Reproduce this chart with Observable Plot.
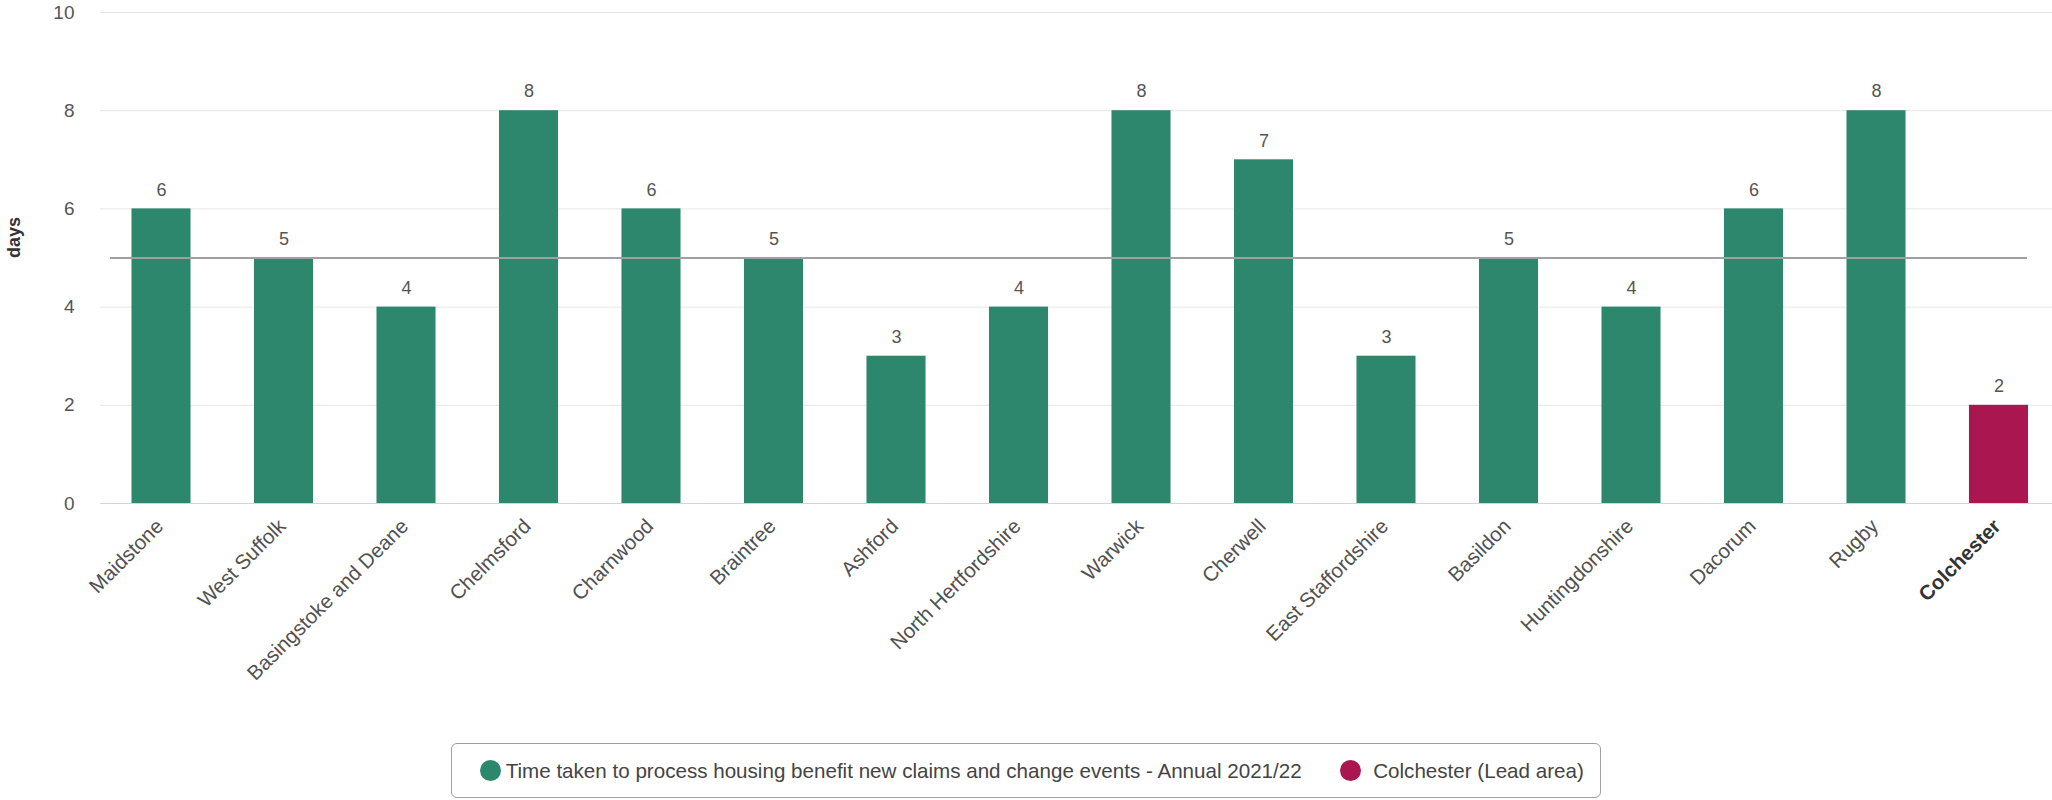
<!DOCTYPE html>
<html><head><meta charset="utf-8">
<script src="https://cdn.jsdelivr.net/npm/d3@7"></script>
<script src="https://cdn.jsdelivr.net/npm/@observablehq/plot@0.6"></script>
<style>
body{margin:0;background:#fff;font-family:"Liberation Sans",Arial,sans-serif;}
#chart svg{display:block;}
.legend{display:flex;align-items:center;width:max-content;margin:13px auto 0;height:55px;box-sizing:border-box;border:1.5px solid #a0a0a0;border-radius:6px;padding:0 16px 0 28px;font-size:20.6px;color:#444;}
.sw{width:21px;height:21px;border-radius:50%;display:inline-block;flex:none;}
</style></head><body>
<div id="chart"></div>
<div class="legend" id="legend"></div>
<script>
const categories = ["Maidstone","West Suffolk","Basingstoke and Deane","Chelmsford","Charnwood","Braintree","Ashford","North Hertfordshire","Warwick","Cherwell","East Staffordshire","Basildon","Huntingdonshire","Dacorum","Rugby","Colchester"];
const values = [6,5,4,8,6,5,3,4,8,7,3,5,4,6,8,2];
const leadArea = "Colchester";
const seriesName = "Time taken to process housing benefit new claims and change events - Annual 2021/22";
const leadName = "Colchester (Lead area)";
const referenceValue = 5;
const yTicks = [0,2,4,6,8,10];
const yLabel = "days";
const seriesColors = ["#2d876c", "#a91650"];

const data = categories.map((c,i)=>({area:c, value:values[i], group: c===leadArea ? leadName : seriesName}));
const font = '"Liberation Sans", Arial, sans-serif';

const chart = Plot.plot({
  width: 2052, height: 730,
  marginTop: 12, marginBottom: 227, marginLeft: 100, marginRight: 0,
  style: {fontFamily: font, background: "white", overflow: "visible"},
  x: {domain: categories, range: [99.75, 2059.75], paddingInner: 0.518, paddingOuter: 0.259, round: false, axis: null},
  y: {domain: [0, 10]},
  color: {domain: [seriesName, leadName], range: seriesColors},
  marks: [
    Plot.gridY(yTicks, {stroke: "#e6e6e6", strokeOpacity: 1}),
    Plot.ruleY([0], {stroke: "#ccd6eb"}),
    Plot.barY(data, {x: "area", y: "value", fill: "group"}),
    Plot.ruleY([referenceValue], {stroke: "#a0a0a0", strokeWidth: 2, insetLeft: 10, insetRight: 25}),
    Plot.text(data, {x: "area", y: "value", text: d => String(d.value), dy: -19, fontSize: 18, fill: "#555"}),
    Plot.axisY(yTicks, {tickSize: 0, tickPadding: 26, fontSize: 19, fill: "#555", label: null}),
    Plot.text(categories.filter(c => c !== leadArea), {x: d => d, frameAnchor: "bottom", rotate: -45, textAnchor: "end", dx: 3, dy: 24, fontSize: 20.5, fill: "#505050"}),
    Plot.text([leadArea], {x: d => d, frameAnchor: "bottom", rotate: -45, textAnchor: "end", dx: 3, dy: 24, fontSize: 20.5, fontWeight: "bold", fill: "#333"}),
    Plot.text([yLabel], {frameAnchor: "left", rotate: -90, dx: -86, fontSize: 18, fontWeight: "bold", fill: "#333"})
  ]
});
document.getElementById("chart").appendChild(chart);

const legend = document.getElementById("legend");
[[seriesName, seriesColors[0]], [leadName, seriesColors[1]]].forEach(([name, col], i) => {
  const sw = document.createElement("span");
  sw.className = "sw"; sw.style.background = col;
  if (i > 0) sw.style.marginLeft = "38px";
  const t = document.createElement("span");
  t.textContent = name; t.style.marginLeft = i > 0 ? "12.5px" : "4.5px";
  legend.appendChild(sw); legend.appendChild(t);
});
</script>
</body></html>
